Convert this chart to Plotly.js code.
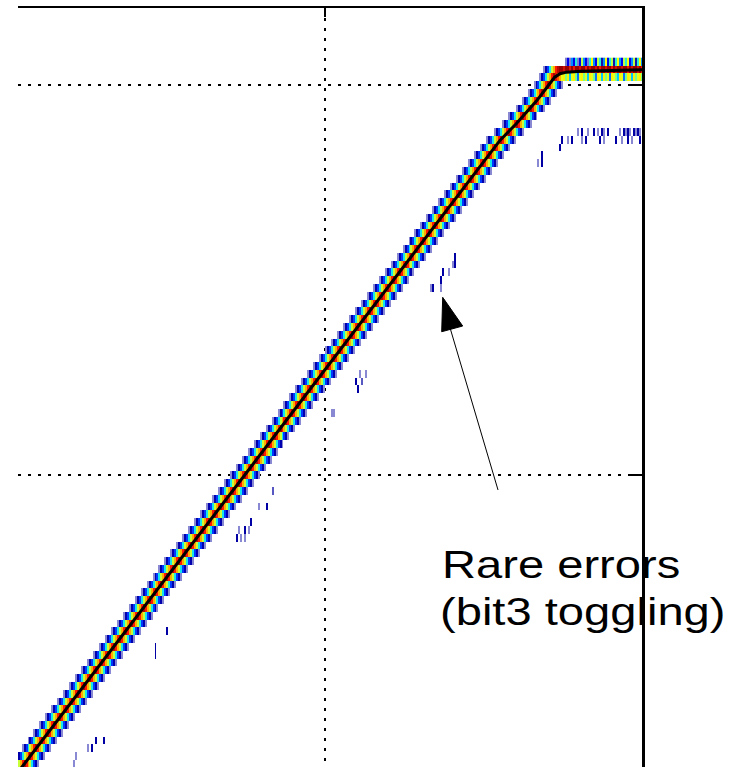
<!DOCTYPE html>
<html><head><meta charset="utf-8">
<script src="https://cdn.plot.ly/plotly-3.0.1.min.js"></script>
<style>html,body{margin:0;padding:0;background:#fff}#chart{width:750px;height:767px}</style>
</head><body><div id="chart"></div>
<script>
// ---------------- data (x: input in LSB, y: output code) ----------------
const firstCode = 362;
// centre (x) of each output-code row, codes 362..450
const rowCenter = [
 -51.5,-50.5,-49.5,-48.5,-47.5,-46.5,-45.5,-44.5,-43.5,-42.5,
 -41.5,-40.5,-39.5,-38.5,-37.5,-36.5,-35.5,-34.5,-33.5,-32.5,
 -31.5,-30.5,-29.5,-28.5,-27.5,-26.5,-25.5,-24.5,-23.5,-22.5,
 -21.5,-20.5,-19.5,-18.5,-17.5,-16.5,-15.5,-14.5,-13.5,-12.5,
 -11.5,-10.5,-9.5,-8.5,-7.5,-6.5,-5.5,-4.5,-3.5,-2.5,
 -1.5,-0.5,0.5,1.5,2.5,3.5,4.5,5.5,6.5,7.5,
 8.5,9.5,10.5,11.5,12.5,13.5,14.5,15.5,16.5,17.5,
 18.5,19.5,20.5,21.5,22.5,23.5,24.5,25.5,26.5,27.5,
 28.5,29.6,30.8,32.1,33.3,34.5,35.6,36.6,37.6
];
// histogram level across one code row (bins -7..+7 around centre)
const rowProfile = [0.04,0.14,0.26,0.4,0.56,0.7,0.86,0.97,0.86,0.7,0.56,0.4,0.26,0.14,0.04];
const binStart = -52.5, binWidth = 1/3, binCount = 319;
// saturation region, rows 451..453, bins starting at x = 36.17
const plateauStartX = 36.1667;
const plateau451 = [0.04,0.14,0.26,0.4,0.56,0.7,0.86,0.97,0.9,0.8,0.7,
 0.58,0.62,0.5,0.62,0.36,0.58,0.62,0.5,0.3,0.58,
 0.62,0.5,0.58,0.36,0.62,0.58,0.5,0.3,0.62,0.58,
 0.36,0.62,0.5,0.58,0.3,0.62,0.58,0.5,0.36,0.62,
 0.58,0.3,0.5,0.62,0.58,0.36,0.62,0.5,0.58,0.62,
 0.5,0.58];
const plateau452 = [null,null,0.04,0.14,0.26,0.4,0.56,0.7,0.86,0.95,1.0,
 1,0.92,1,1,0.9,1,0.88,1,1,0.92,
 1,1,0.88,1,0.92,1,1,0.92,1,0.88,
 1,1,0.92,1,1,0.88,1,0.92,1,1,
 0.92,1,1,0.88,1,0.92,1,1,0.92,1,
 0.88,1];
const plateau453 = [null,null,null,null,null,null,null,null,null,null,null,null,null,
 0.05,0.2,0.05,0.32,0.2,0.42,0.05,0.2,0.55,0.32,
 0.2,0.05,0.42,0.6,0.32,0.2,0.55,0.42,0.12,0.32,
 0.6,0.2,0.42,0.55,0.12,0.42,0.6,0.32,0.2,0.55,
 0.42,0.6,0.2,0.32,0.55,0.12,0.42,0.6,0.32,0.55];
// rare errors (bit3 toggling)
const errX = [-38.40,-37.23,-39.83,-39.08,-41.76,-42.27,
 -26.39,-28.57,-28.57,
 -8.91,-11.18,-9.92,-12.61,-14.45,-13.45,-12.77,-14.71,-14.12,-13.45,
 5.88,6.89,5.21,6.22,5.46,1.01,1.43,
 21.68,21.43,21.93,19.83,20.76,19.50,17.82,18.24,19.41,
 35.88,36.39,36.64,39.50,
 39.92,40.76,41.60,43.03,43.78,46.05,46.89,48.99,49.83,50.67,51.51,52.69,
 42.44,43.19,44.29,45.13,45.97,46.39,46.81,47.48,49.58,50.0,50.42,50.84,51.26,51.68,52.10,52.52,52.94];
const errCode = [366,366,365,365,364,363,
 380,378,377,
 398,396,396,394,393,393,393,392,392,392,
 413,413,412,412,411,408,408,
 428,427,427,426,426,425,424,424,424,
 440,440,441,442,
 443,443,443,443,443,443,443,443,443,443,443,443,
 444,444,444,444,444,444,444,444,444,444,444,444,444,444,444,444,444];
const errLevel = [0.13,0.13,0.04,0.13,0.04,0.04,
 0.13,0.13,0.13,
 0.08,0.04,0.13,0.13,0.04,0.13,0.04,0.13,0.04,0.04,
 0.04,0.04,0.13,0.08,0.13,0.04,0.04,
 0.13,0.04,0.13,0.13,0.04,0.13,0.04,0.13,0.04,
 0.04,0.13,0.13,0.13,
 0.13,0.04,0.13,0.04,0.13,0.13,0.04,0.13,0.04,0.13,0.04,0.13,
 0.04,0.13,0.04,0.13,0.04,0.13,0.04,0.13,0.04,0.13,0.04,0.13,0.04,0.13,0.04,0.13,0.04];
// mean output code (black curve)
const meanX = [-52.5,29.4,32.1,35.6,37.6,38.6,39.5,40.6,43,46,49,51,53.5];
const meanY = [361,442.9,445,448,450,451,451.45,451.65,451.75,451.8,451.9,451.85,451.95];
const xTicks = [0];
const yTicks = [400,450];
const noteLines = ['Rare errors','(bit3 toggling)'];
const arrowTail = [29.08, 398.08];
const arrowTip = [19.78, 422.78];

// ---------------- build histogram image ----------------
const lastCode = 453;
const yCodes = [], xBins = [];
for (let c = firstCode; c <= lastCode; c++) yCodes.push(c);
for (let k = 0; k < binCount; k++) xBins.push(binStart + k*binWidth);
const z = yCodes.map(() => new Array(binCount).fill(null));
const binOf = x => Math.round((x - binStart)/binWidth);
const half = (rowProfile.length - 1)/2;
rowCenter.forEach((cx, i) => {
  const kc = binOf(cx);
  rowProfile.forEach((v, j) => {
    const k = kc + j - half;
    if (k >= 0 && k < binCount) z[i][k] = v;
  });
});
const k0 = binOf(plateauStartX);
[[451,plateau451],[452,plateau452],[453,plateau453]].forEach(([code, arr]) => {
  arr.forEach((v, j) => { const k = k0 + j; if (v !== null && k < binCount) z[code-firstCode][k] = v; });
});
errX.forEach((x, i) => {
  const k = binOf(x), r = errCode[i] - firstCode;
  if (k >= 0 && k < binCount && r >= 0 && r < yCodes.length) z[r][k] = errLevel[i];
});

const colorscale = [
 [0,'rgb(178,178,226)'],[0.07,'rgb(105,105,200)'],[0.13,'rgb(0,0,165)'],
 [0.22,'rgb(0,0,255)'],[0.38,'rgb(0,225,255)'],[0.5,'rgb(120,255,135)'],
 [0.6,'rgb(255,255,0)'],[0.74,'rgb(255,140,0)'],[0.86,'rgb(255,25,0)'],[1,'rgb(150,0,0)']
];

const traces = [
 {type:'heatmap', x:xBins, y:yCodes, z:z, zmin:0, zmax:1, colorscale:colorscale,
  showscale:false, zsmooth:false, hoverinfo:'skip'},
 {type:'scatter', mode:'lines', x:meanX, y:meanY, line:{color:'#000', width:3},
  hoverinfo:'skip'}
];

const gridStyle = {showgrid:true, gridcolor:'#000', gridwidth:1.3, griddash:'3px,7px', zeroline:false,
  showline:true, linecolor:'#000', ticks:'inside', tickcolor:'#000', showticklabels:false, fixedrange:true};

const layout = {
 width:750, height:767, margin:{l:18, r:108, t:8, b:0, pad:0},
 paper_bgcolor:'#fff', plot_bgcolor:'#fff', showlegend:false,
 xaxis:Object.assign({}, gridStyle, {range:[-51.597,53.277], side:'top', linewidth:2, ticklen:9, tickwidth:1.5, tickvals:xTicks}),
 yaxis:Object.assign({}, gridStyle, {range:[362.564,459.872], side:'right', linewidth:3, ticklen:12, tickwidth:1.5, tickvals:yTicks}),
 shapes:[
  {type:'line', xref:'x', yref:'y', x0:arrowTail[0], y0:arrowTail[1], x1:arrowTip[0]+0.3, y1:arrowTip[1]-1.5,
   line:{color:'#000', width:1}},
  {type:'path', xref:'x', yref:'y', xsizemode:'pixel', ysizemode:'pixel',
   xanchor:arrowTip[0], yanchor:arrowTip[1], path:'M0,0 L-1,-34.4 L20,-28.7 Z',
   fillcolor:'#000', line:{color:'#000', width:1}}
 ],
 annotations:[
  {xref:'x', yref:'y', x:19.33, y:388.5, xanchor:'left', yanchor:'middle', showarrow:false,
   text:noteLines[0], font:{family:'Liberation Sans, Arial, sans-serif', size:38, color:'#000'}},
  {xref:'x', yref:'y', x:19.0, y:382.5, xanchor:'left', yanchor:'middle', showarrow:false,
   text:noteLines[1], font:{family:'Liberation Sans, Arial, sans-serif', size:38, color:'#000'}}
 ]
};

Plotly.newPlot('chart', traces, layout, {displayModeBar:false, staticPlot:true}).then(() => {
  document.querySelectorAll('.annotation-text').forEach(el => {
    el.style.transformBox = 'fill-box';
    el.style.transformOrigin = '0% 50%';
    el.style.transform = 'scaleX(1.24)';
  });
});
</script></body></html>
